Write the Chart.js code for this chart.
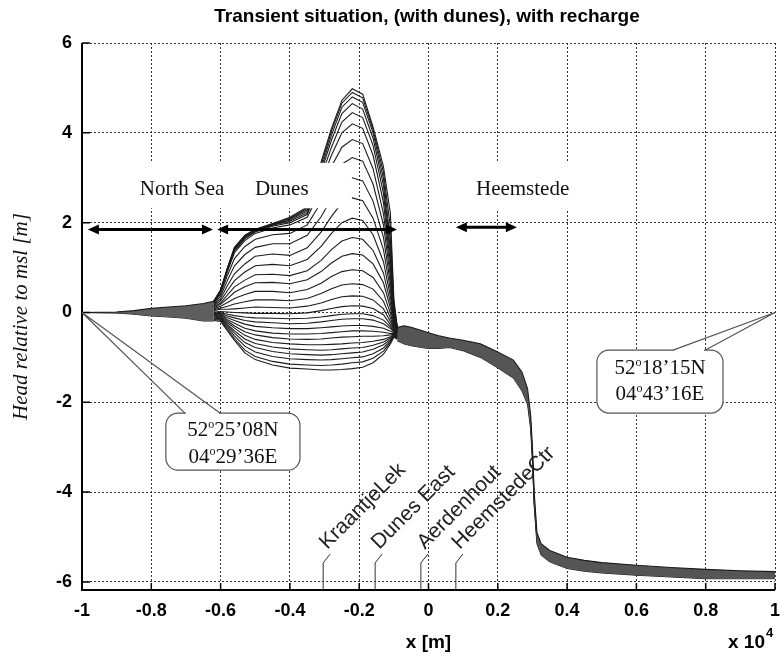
<!DOCTYPE html>
<html>
<head>
<meta charset="utf-8">
<script src="https://cdn.jsdelivr.net/npm/chart.js@4/dist/chart.umd.min.js"></script>
<style>
  html, body { margin: 0; padding: 0; background: #fff; }
  canvas { display: block; }
</style>
</head>
<body>
<canvas id="chart" width="780" height="660"></canvas>
<script>
// x in metres, heads in m relative to msl
const X_TICKS = [-10000, -8000, -6000, -4000, -2000, 0, 2000, 4000, 6000, 8000, 10000];
const Y_TICKS = [-6, -4, -2, 0, 2, 4, 6];

// dune section, one row per time step (bottom = earliest)
const DUNE_X = [-6200, -6000, -5800, -5600, -5300, -5000, -4500, -4000, -3500, -3100, -2800, -2500, -2200, -1900, -1600, -1300, -1100, -1000, -900];
const DUNE_HEADS = [
  [-0.18, -0.20, -0.41, -0.62, -0.90, -1.05, -1.17, -1.24, -1.26, -1.28, -1.28, -1.27, -1.25, -1.22, -1.12, -0.93, -0.70, -0.55, -0.60],
  [-0.16, -0.17, -0.38, -0.58, -0.84, -0.98, -1.09, -1.15, -1.17, -1.18, -1.17, -1.15, -1.12, -1.10, -1.02, -0.86, -0.66, -0.53, -0.59],
  [-0.14, -0.15, -0.34, -0.52, -0.75, -0.88, -0.98, -1.03, -1.05, -1.06, -1.05, -1.03, -1.01, -0.99, -0.92, -0.79, -0.63, -0.52, -0.58],
  [-0.12, -0.14, -0.30, -0.46, -0.67, -0.78, -0.87, -0.92, -0.94, -0.95, -0.94, -0.92, -0.90, -0.88, -0.82, -0.72, -0.60, -0.51, -0.57],
  [-0.10, -0.12, -0.27, -0.41, -0.59, -0.69, -0.77, -0.81, -0.83, -0.84, -0.83, -0.81, -0.79, -0.78, -0.73, -0.66, -0.57, -0.50, -0.56],
  [-0.08, -0.10, -0.23, -0.35, -0.51, -0.60, -0.67, -0.70, -0.72, -0.72, -0.71, -0.70, -0.68, -0.67, -0.64, -0.60, -0.54, -0.49, -0.55],
  [-0.06, -0.08, -0.19, -0.30, -0.43, -0.50, -0.56, -0.59, -0.60, -0.59, -0.57, -0.55, -0.54, -0.53, -0.53, -0.52, -0.50, -0.48, -0.54],
  [-0.05, -0.06, -0.16, -0.24, -0.35, -0.41, -0.46, -0.48, -0.48, -0.47, -0.45, -0.43, -0.41, -0.41, -0.42, -0.44, -0.47, -0.47, -0.53],
  [-0.04, -0.04, -0.12, -0.18, -0.26, -0.31, -0.34, -0.36, -0.36, -0.34, -0.32, -0.30, -0.29, -0.29, -0.31, -0.35, -0.42, -0.45, -0.52],
  [-0.02, -0.02, -0.08, -0.12, -0.18, -0.21, -0.23, -0.25, -0.24, -0.21, -0.18, -0.15, -0.14, -0.14, -0.17, -0.25, -0.36, -0.43, -0.51],
  [-0.01, -0.01, -0.04, -0.07, -0.10, -0.12, -0.13, -0.14, -0.13, -0.10, -0.07, -0.04, -0.03, -0.03, -0.07, -0.17, -0.32, -0.41, -0.50],
  [0.01, 0.02, 0.01, 0.00, -0.01, -0.02, -0.02, -0.03, -0.01, 0.04, 0.09, 0.13, 0.15, 0.14, 0.09, -0.05, -0.27, -0.39, -0.49],
  [0.04, 0.07, 0.07, 0.08, 0.10, 0.12, 0.11, 0.10, 0.14, 0.21, 0.29, 0.35, 0.37, 0.36, 0.28, 0.08, -0.20, -0.37, -0.48],
  [0.06, 0.10, 0.14, 0.19, 0.24, 0.28, 0.28, 0.26, 0.31, 0.42, 0.53, 0.61, 0.64, 0.62, 0.52, 0.25, -0.12, -0.34, -0.47],
  [0.08, 0.14, 0.22, 0.31, 0.40, 0.47, 0.47, 0.44, 0.51, 0.65, 0.80, 0.91, 0.95, 0.93, 0.78, 0.44, -0.02, -0.30, -0.46],
  [0.10, 0.18, 0.31, 0.45, 0.57, 0.66, 0.67, 0.64, 0.73, 0.91, 1.10, 1.25, 1.31, 1.28, 1.08, 0.66, 0.10, -0.26, -0.45],
  [0.12, 0.21, 0.39, 0.57, 0.72, 0.84, 0.85, 0.82, 0.93, 1.16, 1.40, 1.59, 1.67, 1.63, 1.38, 0.88, 0.22, -0.22, -0.44],
  [0.14, 0.26, 0.49, 0.71, 0.90, 1.04, 1.07, 1.04, 1.18, 1.47, 1.76, 2.00, 2.10, 2.05, 1.73, 1.13, 0.36, -0.18, -0.43],
  [0.16, 0.31, 0.60, 0.86, 1.08, 1.25, 1.30, 1.27, 1.44, 1.79, 2.14, 2.44, 2.55, 2.49, 2.10, 1.40, 0.50, -0.14, -0.42],
  [0.18, 0.36, 0.72, 1.04, 1.29, 1.45, 1.53, 1.53, 1.72, 2.13, 2.53, 2.87, 3.00, 2.93, 2.48, 1.67, 0.65, -0.10, -0.41],
  [0.20, 0.41, 0.83, 1.20, 1.47, 1.63, 1.73, 1.76, 1.95, 2.45, 2.91, 3.30, 3.45, 3.37, 2.86, 1.95, 0.80, -0.06, -0.40],
  [0.22, 0.45, 0.92, 1.33, 1.60, 1.76, 1.88, 1.95, 2.12, 2.73, 3.25, 3.68, 3.85, 3.76, 3.20, 2.20, 0.95, -0.02, -0.39],
  [0.23, 0.47, 0.94, 1.37, 1.64, 1.79, 1.92, 2.00, 2.18, 2.90, 3.50, 4.00, 4.20, 4.10, 3.50, 2.45, 1.10, 0.02, -0.38],
  [0.23, 0.47, 0.95, 1.39, 1.66, 1.81, 1.94, 2.03, 2.22, 3.02, 3.68, 4.24, 4.45, 4.34, 3.72, 2.65, 1.25, 0.06, -0.37],
  [0.24, 0.48, 0.97, 1.41, 1.68, 1.82, 1.95, 2.06, 2.26, 3.12, 3.84, 4.43, 4.65, 4.53, 3.88, 2.83, 1.40, 0.10, -0.36],
  [0.24, 0.49, 0.98, 1.42, 1.69, 1.83, 1.96, 2.08, 2.29, 3.20, 3.95, 4.57, 4.80, 4.68, 4.00, 2.98, 1.60, 0.15, -0.35],
  [0.25, 0.50, 0.99, 1.44, 1.71, 1.84, 1.97, 2.10, 2.32, 3.28, 4.04, 4.66, 4.90, 4.78, 4.07, 3.12, 1.90, 0.20, -0.34],
  [0.25, 0.50, 1.00, 1.45, 1.72, 1.85, 1.98, 2.12, 2.35, 3.35, 4.10, 4.72, 4.98, 4.86, 4.13, 3.25, 2.20, 0.30, -0.33]
];

// sea side: the curves run together in a narrow band
const SEA_X = [-10000, -9000, -8500, -8000, -7500, -7000, -6500, -6200];
const SEA_TOP = [0, 0.01, 0.04, 0.09, 0.12, 0.15, 0.20, 0.25];
const SEA_MID_A = [0, 0.005, 0.02, 0.05, 0.07, 0.10, 0.13, 0.14];
const SEA_MID_B = [0, 0, 0, 0.01, 0.02, 0.02, 0.03, 0.03];
const SEA_MID_C = [0, -0.005, -0.015, -0.04, -0.06, -0.08, -0.10, -0.09];
const SEA_BOT = [0, -0.01, -0.04, -0.08, -0.10, -0.13, -0.19, -0.19];

// land side band down to the polder
const LAND_X = [-900, -700, -500, -200, 0, 300, 600, 1000, 1500, 2000, 2450, 2700, 2860, 2950, 3000, 3050, 3130, 3250, 3500, 4000, 4500, 5000, 6000, 7000, 8000, 9000, 10000];
const LAND_TOP = [-0.33, -0.30, -0.33, -0.40, -0.45, -0.52, -0.57, -0.62, -0.70, -0.88, -1.06, -1.33, -1.70, -2.30, -3.00, -4.00, -4.90, -5.15, -5.30, -5.45, -5.52, -5.57, -5.63, -5.68, -5.72, -5.75, -5.77];
const LAND_MID_A = [-0.42, -0.45, -0.50, -0.56, -0.60, -0.64, -0.66, -0.72, -0.83, -1.03, -1.25, -1.52, -1.88, -2.45, -3.15, -4.15, -5.02, -5.28, -5.43, -5.57, -5.64, -5.68, -5.74, -5.78, -5.82, -5.84, -5.85];
const LAND_MID_B = [-0.52, -0.58, -0.63, -0.68, -0.71, -0.73, -0.72, -0.78, -0.92, -1.13, -1.36, -1.64, -1.97, -2.52, -3.22, -4.22, -5.08, -5.34, -5.49, -5.64, -5.70, -5.74, -5.80, -5.84, -5.88, -5.89, -5.89];
const LAND_BOT = [-0.63, -0.70, -0.74, -0.78, -0.80, -0.80, -0.78, -0.85, -1.00, -1.23, -1.46, -1.75, -2.05, -2.60, -3.30, -4.30, -5.15, -5.40, -5.55, -5.70, -5.76, -5.80, -5.85, -5.89, -5.93, -5.93, -5.93];

// annotations (data coordinates)
const REGIONS = [
  { text: 'North Sea', x: -8330, y: 2.61 },
  { text: 'Dunes', x: -5010, y: 2.61 },
  { text: 'Heemstede', x: 1370, y: 2.61 }
];
const ARROWS = [
  { x0: -9830, x1: -6220, y: 1.85 },
  { x0: -6100, x1: -910, y: 1.85 },
  { x0: 790, x1: 2550, y: 1.9 }
];
const SITES = [
  { name: 'KraantjeLek', x: -3040 },
  { name: 'Dunes East', x: -1540 },
  { name: 'Aerdenhout', x: -220 },
  { name: 'HeemstedeCtr', x: 790 }
];
const CALLOUTS = [
  { tip: [-10000, 0], box: [-7580, -3710, -2.24, -3.51], base: [-7030, -6020],
    lines: [['52', '25’08N'], ['04', '29’36E']], textY: [-2.62, -3.22] },
  { tip: [10000, 0], box: [4860, 8500, -0.84, -2.24], base: [7060, 7980],
    lines: [['52', '18’15N'], ['04', '43’16E']], textY: [-1.24, -1.82] }
];

const pts = (xs, ys) => xs.map((x, i) => ({ x: x, y: ys[i] }));
const line = { borderColor: '#1c1c1c', borderWidth: 1.1, pointRadius: 0, tension: 0, fill: false };

const datasets = [];
DUNE_HEADS.forEach(h => datasets.push({ ...line, data: pts(DUNE_X, h) }));
const seaTop = datasets.length;
datasets.push({ ...line, data: pts(SEA_X, SEA_TOP), fill: seaTop + 4, backgroundColor: '#5e5e5e' });
datasets.push({ ...line, data: pts(SEA_X, SEA_MID_A) });
datasets.push({ ...line, data: pts(SEA_X, SEA_MID_B) });
datasets.push({ ...line, data: pts(SEA_X, SEA_MID_C) });
datasets.push({ ...line, data: pts(SEA_X, SEA_BOT) });
const landTop = datasets.length;
datasets.push({ ...line, data: pts(LAND_X, LAND_TOP), fill: landTop + 3, backgroundColor: '#555' });
datasets.push({ ...line, data: pts(LAND_X, LAND_MID_A) });
datasets.push({ ...line, data: pts(LAND_X, LAND_MID_B) });
datasets.push({ ...line, data: pts(LAND_X, LAND_BOT) });

function degText(ctx, parts, cx, cy) {
  // "52" + raised small o + rest
  const big = '21px "Liberation Serif"', small = '12px "Liberation Serif"';
  ctx.font = big;
  const w1 = ctx.measureText(parts[0]).width;
  const w3 = ctx.measureText(parts[1]).width;
  ctx.font = small;
  const w2 = ctx.measureText('o').width;
  let x = cx - (w1 + w2 + w3) / 2;
  ctx.textAlign = 'left';
  ctx.textBaseline = 'middle';
  ctx.font = big;
  ctx.fillText(parts[0], x, cy);
  ctx.font = small;
  ctx.fillText('o', x + w1, cy - 5);
  ctx.font = big;
  ctx.fillText(parts[1], x + w1 + w2, cy);
}

const annotate = {
  id: 'annotate',
  afterDatasetsDraw(chart) {
    const { ctx, chartArea: area, scales: { x, y } } = chart;
    const px = v => x.getPixelForValue(v);
    const py = v => y.getPixelForValue(v);
    ctx.save();

    // white boxes behind the region names
    ctx.fillStyle = '#fff';
    ctx.fillRect(px(-8620), py(3.33), px(-2210) - px(-8620), py(2.32) - py(3.33));
    ctx.fillRect(px(970), py(3.33), px(4660) - px(970), py(2.26) - py(3.33));

    // axes
    ctx.strokeStyle = '#000';
    ctx.lineWidth = 2;
    ctx.beginPath();
    ctx.moveTo(area.left, area.top);
    ctx.lineTo(area.left, area.bottom);
    ctx.lineTo(area.right, area.bottom);
    ctx.stroke();
    ctx.lineWidth = 1.5;
    ctx.beginPath();
    Y_TICKS.forEach(v => { ctx.moveTo(area.left, py(v)); ctx.lineTo(area.left + 8, py(v)); });
    X_TICKS.forEach(v => { ctx.moveTo(px(v), area.bottom); ctx.lineTo(px(v), area.bottom - 7); });
    ctx.stroke();

    // region names
    ctx.fillStyle = '#111';
    ctx.font = '21px "Liberation Serif"';
    ctx.textAlign = 'left';
    ctx.textBaseline = 'alphabetic';
    REGIONS.forEach(r => ctx.fillText(r.text, px(r.x), py(r.y)));

    // double arrows
    ctx.strokeStyle = '#000';
    ctx.fillStyle = '#000';
    ctx.lineWidth = 3;
    ARROWS.forEach(a => {
      const x0 = px(a.x0), x1 = px(a.x1), yy = py(a.y);
      ctx.beginPath();
      ctx.moveTo(x0 + 6, yy);
      ctx.lineTo(x1 - 6, yy);
      ctx.stroke();
      ctx.beginPath();
      ctx.moveTo(x0, yy); ctx.lineTo(x0 + 11, yy - 5); ctx.lineTo(x0 + 11, yy + 5); ctx.closePath();
      ctx.moveTo(x1, yy); ctx.lineTo(x1 - 11, yy - 5); ctx.lineTo(x1 - 11, yy + 5); ctx.closePath();
      ctx.fill();
    });

    // callouts with coordinates
    CALLOUTS.forEach(c => {
      const l = px(c.box[0]), r = px(c.box[1]), t = py(c.box[2]), b = py(c.box[3]);
      const tx = px(c.tip[0]), ty = py(c.tip[1]);
      ctx.beginPath();
      ctx.roundRect(l, t, r - l, b - t, 12);
      ctx.fillStyle = '#fff';
      ctx.fill();
      ctx.strokeStyle = '#555';
      ctx.lineWidth = 1.2;
      ctx.stroke();
      ctx.strokeStyle = '#fff';
      ctx.lineWidth = 3;
      ctx.beginPath();
      ctx.moveTo(px(c.base[0]) + 1, t);
      ctx.lineTo(px(c.base[1]) - 1, t);
      ctx.stroke();
      ctx.strokeStyle = '#555';
      ctx.lineWidth = 1.2;
      ctx.beginPath();
      ctx.moveTo(px(c.base[0]), t); ctx.lineTo(tx, ty); ctx.lineTo(px(c.base[1]), t);
      ctx.stroke();
      ctx.fillStyle = '#111';
      c.lines.forEach((parts, i) => degText(ctx, parts, (l + r) / 2, py(c.textY[i])));
    });

    // well sites with leader lines
    ctx.strokeStyle = '#333';
    ctx.lineWidth = 1;
    ctx.fillStyle = '#222';
    ctx.font = '21px "Liberation Sans"';
    ctx.textAlign = 'left';
    ctx.textBaseline = 'alphabetic';
    SITES.forEach(s => {
      const sx = px(s.x), base = area.bottom;
      ctx.beginPath();
      ctx.moveTo(sx, base);
      ctx.lineTo(sx, base - 27);
      ctx.lineTo(sx + 7, base - 36);
      ctx.stroke();
      ctx.save();
      ctx.translate(sx + 4, base - 40);
      ctx.rotate(-Math.PI / 4);
      ctx.fillText(s.name, 0, 0);
      ctx.restore();
    });
    ctx.restore();
  },
  afterDraw(chart) {
    const { ctx, chartArea: area } = chart;
    ctx.save();
    ctx.fillStyle = '#000';
    ctx.font = 'bold 19px "Liberation Sans"';
    ctx.textAlign = 'center';
    ctx.textBaseline = 'middle';
    ctx.fillText('Transient situation, (with dunes), with recharge', 427, 17);
    // x-axis multiplier
    ctx.font = 'bold 19px "Liberation Sans"';
    ctx.textAlign = 'left';
    ctx.fillText('x 10', area.right - 47, 643);
    const w = ctx.measureText('x 10').width;
    ctx.font = 'bold 13px "Liberation Sans"';
    ctx.fillText('4', area.right - 47 + w + 1, 633);
    ctx.restore();
  }
};

Chart.defaults.font.family = '"Liberation Sans", Arial, sans-serif';

new Chart(document.getElementById('chart').getContext('2d'), {
  type: 'line',
  data: { datasets: datasets },
  options: {
    responsive: false,
    animation: false,
    layout: { padding: { top: 43, right: 5, left: 0, bottom: 0 } },
    plugins: { legend: { display: false }, tooltip: { enabled: false }, title: { display: false } },
    scales: {
      x: {
        type: 'linear',
        min: -10000,
        max: 10000,
        afterBuildTicks: s => { s.ticks = X_TICKS.map(v => ({ value: v })); },
        afterFit: s => { s.height = 70; s.paddingLeft = 0; s.paddingRight = 0; },
        grid: { color: '#333', lineWidth: 1, drawTicks: false },
        border: { display: false, dash: [2, 2] },
        ticks: {
          padding: 10, color: '#000', autoSkip: false, maxRotation: 0,
          font: { size: 18, weight: 'bold' },
          callback: v => String(Math.round(v / 1000) / 10)
        },
        title: {
          display: true, text: 'x [m]', color: '#000',
          font: { size: 19, weight: 'bold' },
          padding: { top: 0, bottom: 6 }
        }
      },
      y: {
        min: -6.18,
        max: 6,
        afterBuildTicks: s => { s.ticks = Y_TICKS.map(v => ({ value: v })); },
        afterFit: s => { s.width = 82; s.paddingTop = 0; s.paddingBottom = 0; },
        grid: { color: '#333', lineWidth: 1, drawTicks: false },
        border: { display: false, dash: [2, 2] },
        ticks: { padding: 10, color: '#000', font: { size: 18, weight: 'bold' } },
        title: {
          display: true, text: 'Head relative to msl [m]', color: '#111',
          font: { family: '"Liberation Serif", serif', size: 21, style: 'italic' },
          padding: { top: 9, bottom: 0 }
        }
      }
    }
  },
  plugins: [annotate]
});
</script>
</body>
</html>
